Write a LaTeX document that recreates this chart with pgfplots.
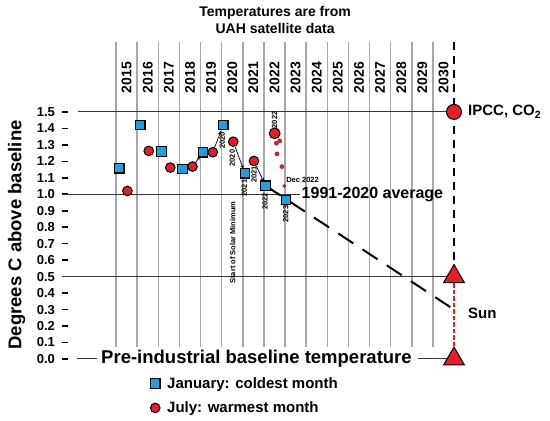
\documentclass[border=0pt]{standalone}
\usepackage{fontspec}
\setmainfont{Liberation Sans}
\usepackage{pgfplots}
\pgfplotsset{compat=1.18}
\usetikzlibrary{arrows.meta}

\definecolor{janblue}{RGB}{30,160,220}
\definecolor{julred}{RGB}{230,30,40}
\definecolor{gridgray}{RGB}{168,168,168}
\definecolor{refline}{RGB}{55,55,55}

\tikzset{smalllab/.style={rotate=90, inner sep=0pt, font=\fontsize{7.5}{7.5}\selectfont\bfseries}}

\begin{document}
\begin{tikzpicture}
\useasboundingbox (0,0) rectangle (550pt,421pt);
\begin{axis}[
    at={(68.5pt,4.4pt)}, anchor=south west,
    x=21.125pt, y=164.7pt,
    xmin=2012.751, xmax=2035.545,
    ymin=-0.35, ymax=1.95,
    clip=false,
    axis x line=none,
    axis y line*=left,
    y axis line style={draw=none},
    ytick={0,0.1,0.2,0.3,0.4,0.5,0.6,0.7,0.8,0.9,1.0,1.1,1.2,1.3,1.4,1.5},
    tick align=outside,
    major tick length=7pt,
    ytick style={black, line width=1.6pt},
    yticklabel style={font=\fontsize{13}{13}\selectfont\bfseries, xshift=-3pt,
        /pgf/number format/fixed, /pgf/number format/fixed zerofill,
        /pgf/number format/precision=1, /pgf/number format/assume math mode=true},
    legend cell align=left,
    legend style={at={(axis description cs:0.1693,0.0550)}, anchor=west,
        draw=none, fill=none, inner sep=0pt, row sep=8pt,
        font=\fontsize{15}{15}\selectfont\bfseries},
    legmark/.style={legend image code/.code={%
        \draw[##1] plot coordinates {(0pt,0pt)};
        \path[draw=none, fill=none] (-5pt,-5pt) rectangle (10pt,5pt);}},
]

% year columns
\pgfplotsinvokeforeach{2015,...,2030}{
  \draw[gridgray, line width=1.5pt] (axis cs:#1,0.073) -- (axis cs:#1,1.925);
  \node[rotate=90, yshift=-10.56pt, font=\fontsize{14}{14}\selectfont\bfseries]
      at (axis cs:#1,1.709) {#1};
}

% reference levels
\draw[refline, line width=1pt] (axis cs:2013.215,1.5) -- (axis cs:2031,1.5);
\draw[refline, line width=1pt] (axis cs:2012.43,1.0) -- (axis cs:2023.71,1.0);
\draw[refline, line width=1pt] (axis cs:2012.43,0.5) -- (axis cs:2031,0.5);
\draw[refline, line width=1pt] (axis cs:2013.154,0) -- (axis cs:2014.10,0);
\draw[refline, line width=1pt] (axis cs:2029.30,0) -- (axis cs:2031,0);

% 2030 marker line
\addplot[black, line width=2pt, dash pattern=on 8pt off 6pt, forget plot]
  coordinates {(2031,1.925) (2031,0.5)};
\addplot[julred, line width=1.3pt, dash pattern=on 4.5pt off 2pt, forget plot]
  coordinates {(2031,0.5) (2031,0)};

% January
\addplot[only marks, mark=square*, mark size=4.75pt,
    mark options={fill=janblue, draw=black, line width=1.2pt}, legmark]
  coordinates {
    (2015.15,1.158) (2016.15,1.421) (2017.15,1.259) (2018.15,1.154)
    (2019.12,1.255) (2020.08,1.421) (2021.10,1.128) (2022.08,1.052)
    (2023.05,0.965)
  };
\addlegendentry{January: coldest month}

% July
\addplot[only marks, mark=*, mark size=4.8pt,
    mark options={fill=julred, draw=black, line width=1pt}, legmark]
  coordinates {
    (2015.54,1.020) (2016.55,1.263) (2017.57,1.162) (2018.62,1.168)
    (2019.58,1.255) (2020.55,1.319) (2021.53,1.202)
  };
\addlegendentry{July: warmest month}

\addplot[only marks, mark=*, mark size=5.4pt,
    mark options={fill=julred, draw=black, line width=1pt}, forget plot]
  coordinates {(2022.51,1.370)};

% 2022 monthly values
\addplot[only marks, mark=*, mark size=2.1pt,
    mark options={fill=julred, draw=julred!60!black, line width=0.3pt}, forget plot]
  coordinates {(2022.59,1.310) (2022.75,1.324) (2022.62,1.245) (2022.85,1.168)};
\addplot[only marks, mark=*, mark size=1.8pt,
    mark options={fill=julred, draw=julred!60!black, line width=0.3pt}, forget plot]
  coordinates {(2022.97,1.050)};

% IPCC target and Sun
\addplot[only marks, mark=*, mark size=7.5pt,
    mark options={fill=julred, draw=black, line width=1pt}, forget plot]
  coordinates {(2031,1.5)};
\addplot[only marks, mark=triangle*, mark size=12pt,
    mark options={fill=julred, draw=black, line width=1pt}, forget plot]
  coordinates {(2031,0.5) (2031,0)};

% projection
\addplot[black, line width=2pt, dash pattern=on 18pt off 11pt, forget plot]
  coordinates {(2022.08,1.052) (2031,0.30)};

% arrows
\draw[-{Stealth[length=4pt,width=3.5pt]}, line width=0.7pt, shorten <=5pt, shorten >=5pt]
  (axis cs:2018.62,1.168) -- (axis cs:2019.12,1.255);
\draw[-{Stealth[length=4pt,width=3.5pt]}, line width=0.7pt, shorten <=4.5pt, shorten >=6.5pt]
  (axis cs:2019.58,1.255) -- (axis cs:2020.08,1.421);
\draw[-{Stealth[length=4pt,width=3.5pt]}, line width=0.7pt, shorten <=5.5pt, shorten >=4.5pt]
  (axis cs:2020.55,1.319) -- (axis cs:2021.10,1.128);
\draw[-{Stealth[length=4pt,width=3.5pt]}, line width=0.7pt, shorten <=5.5pt, shorten >=4.5pt]
  (axis cs:2021.53,1.202) -- (axis cs:2022.08,1.052);

% small labels
\node[smalllab] at (axis cs:2020.03,1.327) {2020};
\node[smalllab] at (axis cs:2020.50,1.220) {2020};
\node[smalllab] at (axis cs:2021.07,1.037) {2021};
\node[smalllab] at (axis cs:2021.53,1.120) {2021};
\node[smalllab] at (axis cs:2022.06,0.957) {2022};
\node[smalllab] at (axis cs:2022.51,1.451) {2022};
\node[smalllab] at (axis cs:2023.04,0.880) {2023};
\node[smalllab] at (axis cs:2020.52,0.707) {Start of Solar Minimum};
\node[anchor=west, inner sep=0pt, font=\fontsize{7.5}{7.5}\selectfont\bfseries]
  at (axis cs:2023.05,1.086) {Dec 2022};

% texts
\node[align=center, font=\fontsize{14}{17}\selectfont\bfseries]
  at (axis cs:2022.53,2.056) {Temperatures are from\\UAH satellite data};
\node[rotate=90, font=\fontsize{18.5}{18.5}\selectfont\bfseries]
  at (axis cs:2010.30,0.753) {Degrees C above baseline};
\node[font=\fontsize{18.5}{18.5}\selectfont\bfseries]
  at (axis cs:2021.65,0) {Pre-industrial baseline temperature};
\node[anchor=west, inner sep=1.5pt, font=\fontsize{16}{16}\selectfont\bfseries]
  at (axis cs:2023.71,1.0) {1991-2020 average};
\node[anchor=west, inner sep=0pt, xshift=14pt, font=\fontsize{15}{15}\selectfont\bfseries]
  at (axis cs:2031,1.5) {IPCC, CO\textsubscript{2}};
\node[anchor=west, inner sep=0pt, xshift=14pt, font=\fontsize{15}{15}\selectfont\bfseries]
  at (axis cs:2031,0.279) {Sun};

\end{axis}
\end{tikzpicture}
\end{document}
